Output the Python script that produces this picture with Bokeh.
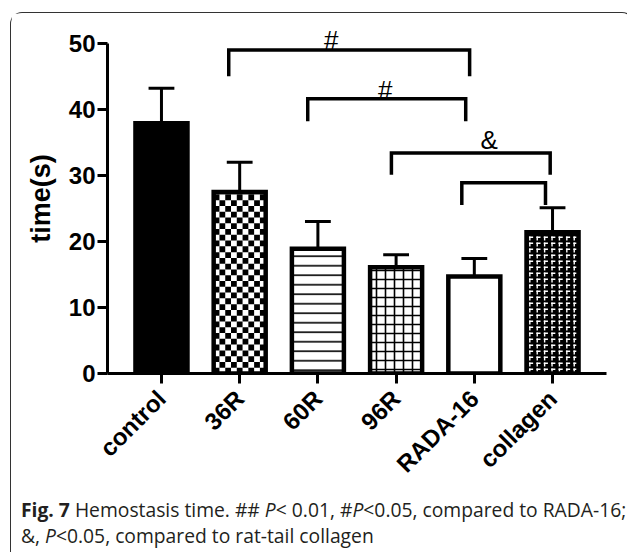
import math
from bokeh.plotting import figure
from bokeh.models import FixedTicker, Div
from bokeh.layouts import column
from bokeh.core.properties import value
from bokeh.embed import file_html
from bokeh.resources import INLINE

# ---------------- data ----------------
categories = ["control", "36R", "60R", "96R", "RADA-16", "collagen"]
means = [37.9, 27.5, 18.9, 16.1, 14.7, 21.4]
errors = [5.3, 4.5, 4.1, 1.9, 2.7, 3.7]

# significance brackets (x in category index units)
bracket_left = [0.86, 1.87, 2.94, 3.84]
bracket_right = [3.94, 3.89, 4.97, 4.91]
bracket_top = [49.0, 41.6, 33.4, 28.9]
bracket_bottom = [45.0, 38.2, 30.1, 25.5]
mark_text = ["#", "#", "&"]
mark_x = [2.17, 2.86, 4.19]
mark_y = [50.5, 42.9, 35.3]

y_ticks = [0, 10, 20, 30, 40, 50]

# ---------------- layout constants ----------------
W, H = 612, 479
ML, MR, MT, MB = 96, 17, 10, 119
X0, X1 = -0.69, 5.69
Y0, Y1 = 0, 53
PXX = (W - ML - MR) / (X1 - X0)
PXY = (H - MT - MB) / (Y1 - Y0)
BW = 0.665
FONT = "Liberation Sans"

p = figure(width=W, height=H, x_range=(X0, X1), y_range=(Y0, Y1),
           output_backend="svg", toolbar_location=None,
           min_border_left=ML, min_border_right=MR,
           min_border_top=MT, min_border_bottom=MB)
p.xgrid.visible = False
p.ygrid.visible = False
p.outline_line_color = None
p.background_fill_color = "white"
p.border_fill_color = "white"

xs = list(range(len(categories)))

# bar backgrounds
fills = ["black", "white", "white", "white", "white", "black"]
hatches = [None, None, "horizontal_line", "cross", None, None]
for i in xs:
    kw = {}
    if hatches[i]:
        kw = dict(hatch_pattern=hatches[i], hatch_color="black",
                  hatch_weight=1.6, hatch_scale=9.5 if hatches[i] == "horizontal_line" else 9)
    p.vbar(x=[i], top=[means[i]], width=BW, fill_color=fills[i], line_color=None, **kw)

# checker pattern for 36R
i = 1
ncols = 9
cw = BW / ncols
ch = cw * PXX / PXY
cx, cy, chh = [], [], []
r = 0
while r * ch < means[i]:
    y_lo = r * ch
    y_hi = min((r + 1) * ch, means[i])
    for c in range(ncols):
        if (r + c) % 2 == 0:
            cx.append(i - BW / 2 + (c + 0.5) * cw)
            cy.append((y_lo + y_hi) / 2)
            chh.append(y_hi - y_lo)
    r += 1
p.rect(x=cx, y=cy, width=cw, height=chh, fill_color="black", line_color=None)

# collagen texture: white corner marks on black
i = 5
pw, ph = 7.4, 6.0  # cell size in px
ncols = int(BW * PXX // pw)
hx, hy, vx, vy = [], [], [], []
r = 0
while (r + 1) * ph / PXY < means[i] - 0.3:
    top = (r + 1) * ph / PXY
    for c in range(ncols):
        left = i - BW / 2 + (c * pw + 2.5) / PXX
        hx.append(left + 2.0 / PXX)
        hy.append(top - 1.8 / PXY)
        vx.append(left + 0.8 / PXX)
        vy.append(top - 3.0 / PXY)
    r += 1
p.rect(x=hx, y=hy, width=4.2, height=1.4, width_units="screen", height_units="screen",
       fill_color="white", line_color=None)
p.rect(x=vx, y=vy, width=1.4, height=4.2, width_units="screen", height_units="screen",
       fill_color="white", line_color=None)

# bar outlines
p.vbar(x=xs, top=means, width=BW, fill_color=None, line_color="black", line_width=4.5,
       line_join="miter")

# error bars (upper only)
tops = [m + e for m, e in zip(means, errors)]
p.segment(x0=xs, y0=means, x1=xs, y1=tops, line_color="black", line_width=3)
p.segment(x0=[x - 0.165 for x in xs], y0=tops, x1=[x + 0.165 for x in xs], y1=tops,
          line_color="black", line_width=3)

# brackets
bxs = [[l, l, r_, r_] for l, r_ in zip(bracket_left, bracket_right)]
bys = [[b, t, t, b] for b, t in zip(bracket_bottom, bracket_top)]
p.multi_line(xs=bxs, ys=bys, line_color="black", line_width=3.5, line_join="miter")
p.text(x=mark_x, y=mark_y, text=mark_text, text_font=value(FONT), text_font_size="26px",
       text_align="center", text_baseline="middle", text_color="black")

# axes
p.yaxis.ticker = FixedTicker(ticks=y_ticks)
p.yaxis.bounds = (0, 50)
p.yaxis.axis_label = "time(s)"
p.xaxis.ticker = FixedTicker(ticks=xs)
p.xaxis.major_label_overrides = {i: c for i, c in enumerate(categories)}
p.xaxis.major_label_orientation = math.pi / 4
for ax in (p.xaxis, p.yaxis):
    ax.axis_line_width = 3
    ax.axis_line_color = "black"
    ax.major_tick_line_width = 3
    ax.major_tick_line_color = "black"
    ax.major_tick_out = 10
    ax.major_tick_in = 0
    ax.minor_tick_line_color = None
    ax.major_label_text_font = FONT
    ax.major_label_text_font_style = "bold"
    ax.major_label_text_font_size = "24px"
    ax.major_label_text_color = "black"
p.yaxis.major_label_standoff = 2
p.xaxis.major_label_standoff = 11
p.yaxis.axis_label_text_font = FONT
p.yaxis.axis_label_text_font_style = "bold"
p.yaxis.axis_label_text_font_size = "27px"
p.yaxis.axis_label_text_color = "black"
p.yaxis.axis_label_standoff = 10

caption = Div(
    text=('<b>Fig. 7</b> Hemostasis time. ## <i>P</i>&lt; 0.01, #<i>P</i>&lt;0.05, '
          'compared to RADA-16;<br>&amp;, <i>P</i>&lt;0.05, compared to rat-tail collagen'),
    width=W, height=56,
    styles={"font-family": "'Open Sans'", "font-size": "19.3px", "line-height": "26px",
            "color": "#231f20", "padding-top": "0px", "padding-left": "5px",
            "white-space": "nowrap"})

layout = column(p, caption, styles={
    "border-top": "1.5px solid #333", "border-left": "1.5px solid #333",
    "border-right": "1.5px solid #333",
    "border-top-left-radius": "12px", "border-top-right-radius": "12px",
    "margin-top": "12px", "margin-left": "10px"})

open("out.html", "w").write(file_html(layout, INLINE))
